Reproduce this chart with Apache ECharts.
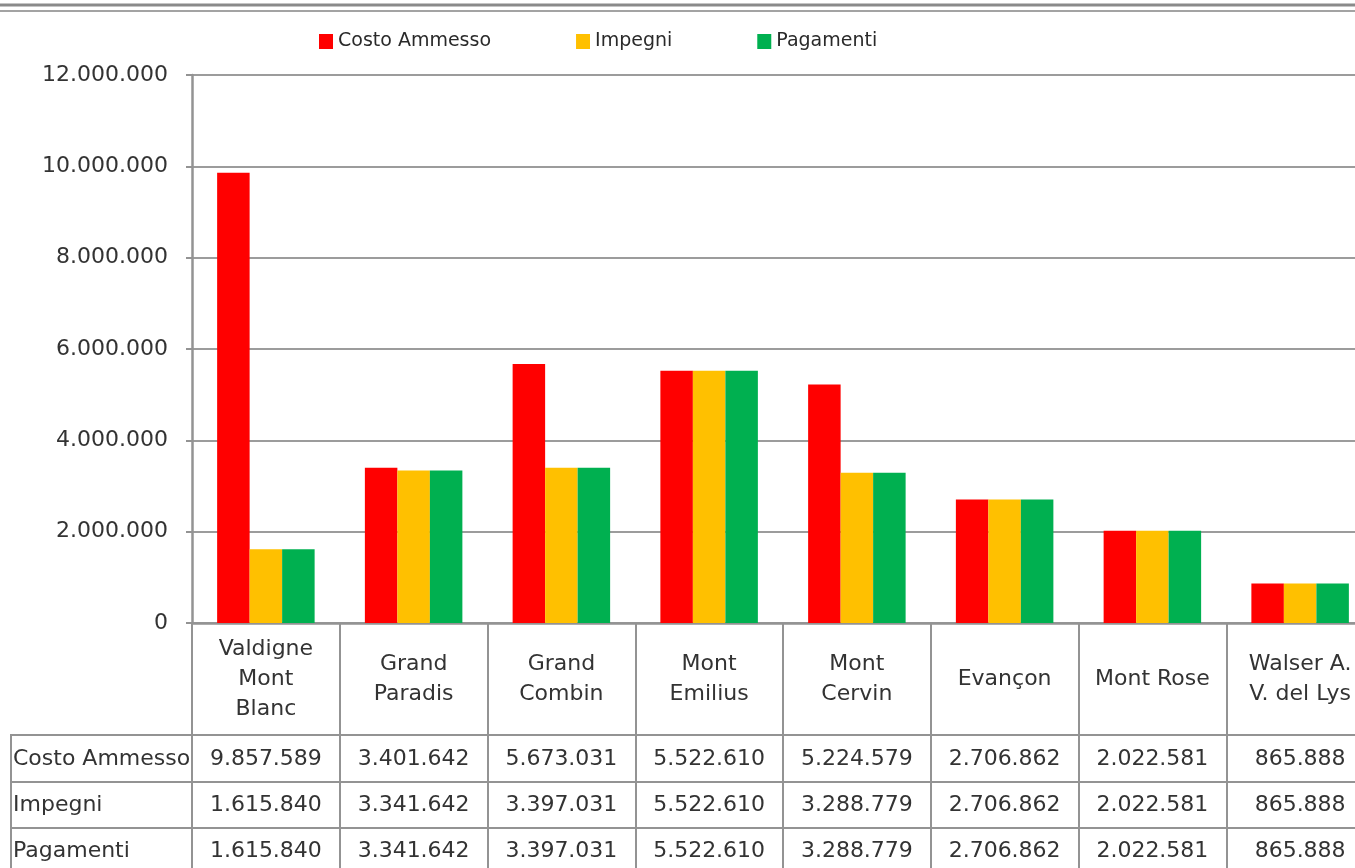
<!DOCTYPE html>
<html>
<head>
<meta charset="utf-8">
<title>Costo Ammesso / Impegni / Pagamenti</title>
<script src="https://cdn.jsdelivr.net/npm/echarts@6/dist/echarts.min.js"></script>
<style>
  html, body { margin: 0; padding: 0; background: #fff; }
  #main { width: 1355px; height: 868px; }
</style>
</head>
<body>
<div id="main"></div>
<script>
  // categorie (GAL)
  var categories = [
    'Valdigne\nMont\nBlanc', 'Grand\nParadis', 'Grand\nCombin', 'Mont\nEmilius',
    'Mont\nCervin', 'Evançon', 'Mont Rose', 'Walser A.\nV. del Lys'
  ];
  var seriesNames = ['Costo Ammesso', 'Impegni', 'Pagamenti'];
  var costoAmmesso = [9857589, 3401642, 5673031, 5522610, 5224579, 2706862, 2022581, 865888];
  var impegni = [1615840, 3341642, 3397031, 5522610, 3288779, 2706862, 2022581, 865888];
  var pagamenti = [1615840, 3341642, 3397031, 5522610, 3288779, 2706862, 2022581, 865888];
  var yTicks = [0, 2000000, 4000000, 6000000, 8000000, 10000000, 12000000];

  var colors = ['#ff0000', '#ffc000', '#00b050'];
  var seriesData = [costoAmmesso, impegni, pagamenti];
  var font = 'DejaVu Sans';
  var textColor = '#333333';
  var lineColor = '#939393';

  // separatore delle migliaia con il punto
  function fmt(v) {
    return String(v).replace(/\B(?=(\d{3})+(?!\d))/g, '.');
  }

  var chart = echarts.init(document.getElementById('main'));

  // righe della tabella dati sotto il grafico
  var rowAxisLine = [735, 782, 828];
  var rowCenter = [759, 805, 851];
  var xAxes = [{
    type: 'category',
    data: categories,
    axisLine: { lineStyle: { color: lineColor, width: 2.5 } },
    axisTick: {
      show: true,
      interval: 0,
      length: 250, // le righe verticali della tabella
      lineStyle: { color: lineColor, width: 2 }
    },
    axisLabel: {
      interval: 0,
      margin: 56,
      verticalAlign: 'middle',
      lineHeight: 30,
      fontSize: 22,
      fontFamily: font,
      color: textColor
    }
  }];
  seriesData.forEach(function (arr, i) {
    xAxes.push({
      type: 'category',
      position: 'bottom',
      offset: rowAxisLine[i] - 623,
      data: arr.map(fmt),
      axisLine: { show: false },
      axisTick: { show: false },
      axisLabel: {
        interval: 0,
        margin: rowCenter[i] - rowAxisLine[i],
        verticalAlign: 'middle',
        fontSize: 22,
        fontFamily: font,
        color: textColor
      }
    });
  });

  var graphics = [
    // doppia riga in alto
    { type: 'line', shape: { x1: 0, y1: 5, x2: 1355, y2: 5 }, style: { stroke: '#8a8a8a', lineWidth: 3 } },
    { type: 'line', shape: { x1: 0, y1: 11, x2: 1355, y2: 11 }, style: { stroke: '#a3a3a3', lineWidth: 2 } },
    // bordo sinistro intestazioni
    { type: 'line', shape: { x1: 11, y1: 735, x2: 11, y2: 868 }, style: { stroke: lineColor, lineWidth: 2 } }
  ];
  rowAxisLine.forEach(function (y, i) {
    graphics.push({ type: 'line', shape: { x1: 10, y1: y, x2: 1355, y2: y }, style: { stroke: lineColor, lineWidth: 2 } });
    graphics.push({
      type: 'text', left: 13, top: rowCenter[i] - 11,
      style: { text: seriesNames[i], font: '22px "DejaVu Sans"', fill: textColor }
    });
  });

  var option = {
    backgroundColor: '#ffffff',
    animation: false,
    legend: {
      left: 314,
      top: 27,
      itemWidth: 14,
      itemHeight: 15,
      itemGap: 85,
      icon: 'rect',
      textStyle: { fontSize: 19, fontFamily: font, color: '#2a2a2a' },
      data: seriesNames
    },
    grid: {
      left: 192,
      top: 75,
      width: 1182,
      height: 548,
      outerBoundsMode: 'none'
    },
    xAxis: xAxes,
    yAxis: {
      type: 'value',
      min: yTicks[0],
      max: yTicks[yTicks.length - 1],
      interval: yTicks[1] - yTicks[0],
      axisLine: { show: true, lineStyle: { color: lineColor, width: 2.5 } },
      axisTick: { show: true, length: 6, lineStyle: { color: lineColor, width: 2 } },
      splitLine: { lineStyle: { color: '#9c9c9c', width: 2 } },
      axisLabel: {
        margin: 24,
        fontSize: 22,
        fontFamily: font,
        color: textColor,
        formatter: fmt
      }
    },
    graphic: graphics,
    series: seriesNames.map(function (name, i) {
      return {
        name: name,
        type: 'bar',
        barWidth: 32.5,
        barGap: '0%',
        itemStyle: { color: colors[i] },
        data: seriesData[i]
      };
    })
  };
  chart.setOption(option);
</script>
</body>
</html>
